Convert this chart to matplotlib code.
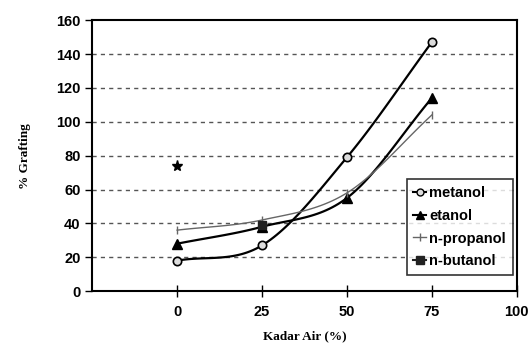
import numpy as np
import matplotlib
matplotlib.use("Agg")
import matplotlib.pyplot as plt
from matplotlib.lines import Line2D

kadar_air = [0, 25, 50, 75]
metanol = [18, 27, 79, 147]
etanol = [28, 38, 55, 114]
n_propanol = [36, 42, 58, 104]
n_butanol = [None, 39, None, None]
star_x, star_y = 0, 74


def smooth(x, y, n=30):
    # catmull-rom curve through the points, like Excel's smoothed line
    x = np.asarray(x, float)
    y = np.asarray(y, float)
    px = np.concatenate([[2 * x[0] - x[1]], x, [2 * x[-1] - x[-2]]])
    py = np.concatenate([[2 * y[0] - y[1]], y, [2 * y[-1] - y[-2]]])
    xs, ys = [], []
    t = np.linspace(0, 1, n)
    for i in range(1, len(px) - 2):
        for p, out in ((px, xs), (py, ys)):
            p0, p1, p2, p3 = p[i - 1], p[i], p[i + 1], p[i + 2]
            out.extend(0.5 * (2 * p1 + (-p0 + p2) * t
                              + (2 * p0 - 5 * p1 + 4 * p2 - p3) * t ** 2
                              + (-p0 + 3 * p1 - 3 * p2 + p3) * t ** 3))
    return xs, ys


fig = plt.figure(figsize=(5.3, 3.47), dpi=100)
ax = fig.add_axes([0.174, 0.161, 0.801, 0.781])

for yy in range(20, 160, 20):
    ax.axhline(yy, color="#555555", linestyle=(0, (3, 3)), linewidth=1.0, zorder=0)

sx, sy = smooth(kadar_air, metanol)
ax.plot(sx, sy, color="black", linewidth=1.6)
ax.plot(kadar_air, metanol, linestyle="none", marker="o", markersize=6,
        markerfacecolor="#dddddd", markeredgecolor="black", markeredgewidth=1.2)

sx, sy = smooth(kadar_air, etanol)
ax.plot(sx, sy, color="black", linewidth=1.6)
ax.plot(kadar_air, etanol, linestyle="none", marker="^", markersize=7, color="black")

sx, sy = smooth(kadar_air, n_propanol)
ax.plot(sx, sy, color="#666666", linewidth=1.0)
ax.plot(kadar_air, n_propanol, linestyle="none", marker="|", markersize=6, color="#666666")

bx = [x for x, v in zip(kadar_air, n_butanol) if v is not None]
by = [v for v in n_butanol if v is not None]
ax.plot(bx, by, linestyle="none", marker="s", markersize=6, color="#222222")

ax.plot([star_x], [star_y], linestyle="none", marker="*", markersize=8, color="black")

ax.set_xlim(-25, 100)
ax.set_ylim(0, 160)
ax.set_xticks([0, 25, 50, 75, 100])
ax.set_yticks(range(0, 161, 20))
ax.tick_params(axis="x", direction="inout", length=8, width=1, labelsize=10.5, pad=6)
ax.tick_params(axis="y", direction="out", length=5, width=1, labelsize=10.5)
for lab in ax.get_xticklabels() + ax.get_yticklabels():
    lab.set_fontfamily("Liberation Sans")
    lab.set_fontweight("bold")
for sp in ax.spines.values():
    sp.set_linewidth(1.5)

ax.set_xlabel("Kadar Air (%)", fontfamily="Liberation Serif", fontweight="bold",
              fontsize=9.5, labelpad=8)
ax.set_ylabel("% Grafting", fontfamily="Liberation Serif", fontweight="bold",
              fontsize=9.5, labelpad=18)

handles = [
    Line2D([], [], color="black", linewidth=1.5, marker="o", markersize=5,
           markerfacecolor="#dddddd", markeredgecolor="black"),
    Line2D([], [], color="black", linewidth=1.5, marker="^", markersize=6),
    Line2D([], [], color="#666666", linewidth=1.0, marker="|", markersize=6),
    Line2D([], [], color="#222222", linewidth=1.5, marker="s", markersize=6),
]
labels = ["metanol", "etanol", "n-propanol", "n-butanol"]
leg = ax.legend(handles, labels, loc="lower right", bbox_to_anchor=(0.99, 0.06),
                frameon=True, fancybox=False, edgecolor="black", handlelength=0.9,
                handletextpad=0.2, borderpad=0.45, borderaxespad=0, labelspacing=0.6,
                prop={"family": "Liberation Sans", "weight": "bold", "size": 10.5})
leg.get_frame().set_linewidth(1.2)

fig.savefig("out.png", dpi=100)
